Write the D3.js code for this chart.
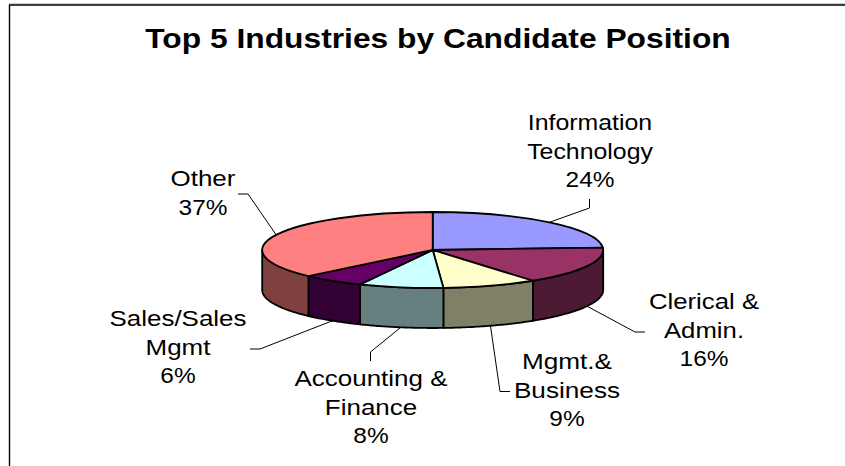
<!DOCTYPE html>
<html><head><meta charset="utf-8">
<script src="https://cdn.jsdelivr.net/npm/d3@7"></script>
<style>html,body{margin:0;padding:0;background:#fff;overflow:hidden}svg{display:block}text{font-family:"Liberation Sans",Arial,sans-serif;fill:#000}</style>
</head><body><svg id="c" width="845" height="466"></svg>
<script>
const chartTitle = "Top 5 Industries by Candidate Position";
const categories = [["Information","Technology"],["Clerical &","Admin."],["Mgmt.&","Business"],["Accounting &","Finance"],["Sales/Sales","Mgmt"],["Other"]];
const shares = [24,16,9,8,6,37];
const colors = ["#9999FF","#993366","#FFFFCC","#CCFFFF","#660066","#FF8080"];
// label layout (separate from the data)
const labelCenters = [[590,130],[704,309],[567,369],[371,386],[178,326],[203,186]];
const labelStretch = [1.13,1.17,1.19,1.18,1.18,1.18];
const leaderBends = [[[589.5,208],[589.5,199]],[[635,332],[645,332]],[[500,391.5],[510,391.5]],[[370.5,352],[370.5,361]],[[260,349],[250,349]],[[248,194],[238,194]]];

const cx=432.7, cy=250, rx=170.5, ry=38, depth=40, lineGap=28.7, pctStretch=1.11, edge=1.8;
const svg=d3.select("#c");
const px=d3.scaleLinear([-1,1],[cx-rx,cx+rx]), py=d3.scaleLinear([-1,1],[cy-ry,cy+ry]);
const slices=d3.pie().sort(null).value(d=>d)(shares);
const ptX=a=>px(Math.sin(a)), ptY=a=>py(-Math.cos(a));

// frame
svg.append("path").attr("d","M9.5 466V5H845").attr("fill","none").attr("stroke","#000").attr("stroke-width",1.4);
svg.append("rect").attr("x",9).attr("y",3).attr("width",836).attr("height",1).attr("fill","#c8c8c8");

// walls (only the front half of the rim is visible)
const line=d3.line();
slices.forEach((s,i)=>{
  const a0=Math.max(s.startAngle,Math.PI/2), a1=Math.min(s.endAngle,Math.PI*1.5);
  if(a1<=a0) return;
  const as=d3.range(0,41).map(k=>a0+(a1-a0)*k/40);
  const pts=as.map(a=>[ptX(a),ptY(a)]).concat(as.slice().reverse().map(a=>[ptX(a),ptY(a)+depth]));
  const c=d3.rgb(colors[i]);
  svg.append("path").attr("d",line(pts)+"Z")
    .attr("fill",d3.rgb(c.r/2,c.g/2,c.b/2).formatHex())
    .attr("stroke","#000").attr("stroke-width",edge).attr("stroke-linejoin","round");
});

// top face
const arc=d3.arc().innerRadius(0).outerRadius(1);
svg.append("g").attr("transform",`translate(${cx},${cy}) scale(${rx},${ry})`)
  .selectAll("path").data(slices).join("path")
  .attr("d",arc).attr("fill",(d,i)=>colors[i])
  .attr("stroke","#000").attr("stroke-width",edge).attr("vector-effect","non-scaling-stroke").attr("stroke-linejoin","round");

// leader lines
slices.forEach((s,i)=>{
  const m=(s.startAngle+s.endAngle)/2;
  const front=Math.cos(m)<0;
  const start=[ptX(m),ptY(m)+(front?depth:0)];
  svg.append("path").attr("d",line([start,...leaderBends[i]])).attr("fill","none").attr("stroke","#000").attr("stroke-width",1);
});

// labels
categories.forEach((lines,i)=>{
  const [x,y]=labelCenters[i];
  lines.concat(shares[i]+"%").forEach((t,k)=>{
    const st=k<lines.length?labelStretch[i]:pctStretch;
    svg.append("text").attr("text-anchor","middle").attr("font-size",22)
      .attr("transform",`translate(${x},${y+k*lineGap}) scale(${st},1)`).text(t);
  });
});

// title
svg.append("text").attr("text-anchor","middle").attr("font-size",28).attr("font-weight","bold")
  .attr("transform","translate(438,48) scale(1.135,1)").text(chartTitle);
</script></body></html>
